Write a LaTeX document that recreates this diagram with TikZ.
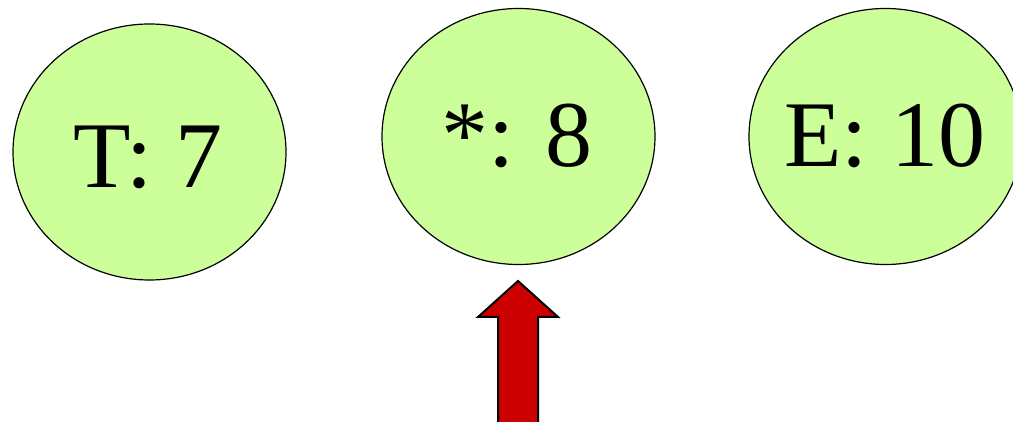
\documentclass[tikz,border=0pt]{standalone}
\usepackage{fontspec}
\setmainfont{Liberation Serif}
\usetikzlibrary{shapes.geometric}
\definecolor{nodegreen}{HTML}{CCFF99}
\definecolor{arrowred}{HTML}{CC0000}
\begin{document}
\begin{tikzpicture}[x=1pt,y=1pt,
  oval/.style={ellipse,draw=black,line width=1.2pt,fill=nodegreen,inner sep=0pt,minimum width=273pt,minimum height=256pt},
  bigtext/.style={anchor=base,inner sep=0pt,font=\fontsize{94}{94}\selectfont}]
\useasboundingbox (0,0) rectangle (1013,422);
\node[oval] (t) at (149.5,270) {};
\node[oval] (s) at (518.5,285.5) {};
\node[oval] (e) at (885.5,285.5) {};
\node[bigtext] (tl) at (148,234) {T: 7};
\node[bigtext] (sl) at (517,255) {*: 8};
\node[bigtext] (el) at (885,255) {E: 10};
\draw[line width=2pt,fill=arrowred,line join=miter]
  (518,141) -- (558,105) -- (538,105) -- (538,-10) -- (498,-10) -- (498,105) -- (478,105) -- cycle;
\end{tikzpicture}
\end{document}
